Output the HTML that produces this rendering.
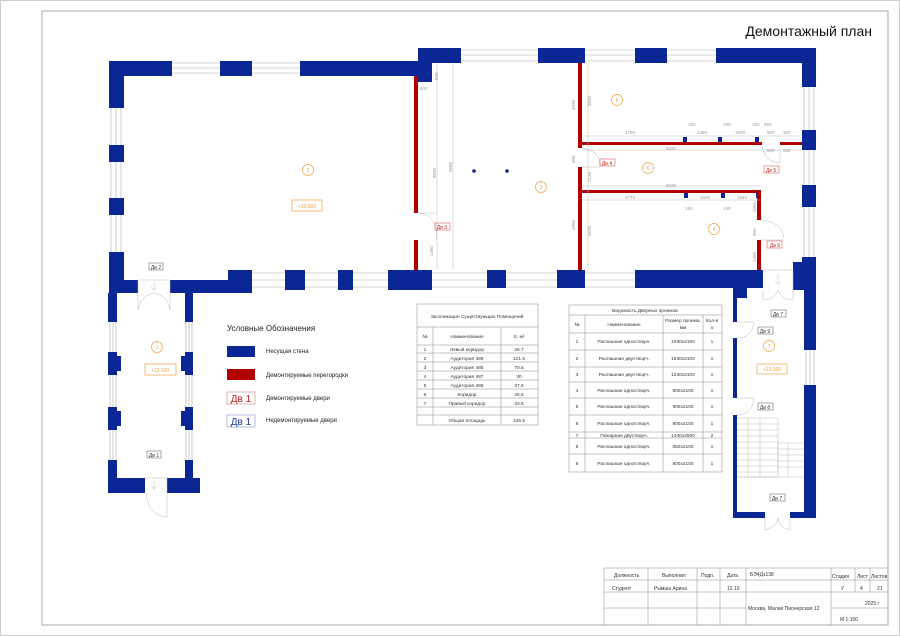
<!DOCTYPE html>
<html><head><meta charset="utf-8"><style>
html,body{margin:0;padding:0;background:#fff}
svg{display:block}
text{font-family:"Liberation Sans",sans-serif}
</style></head><body>
<svg width="900" height="636" viewBox="0 0 900 636" xmlns="http://www.w3.org/2000/svg">
<rect x="0.5" y="0.5" width="899" height="635" fill="#fff" stroke="#ccc"/>
<rect x="42" y="11" width="846" height="614" fill="none" stroke="#aaa" stroke-width="1"/>
<text x="872" y="36" font-size="14" text-anchor="end" fill="#111">Демонтажный план</text>

<g stroke="#aaa" stroke-width="0.6" fill="none">
 <path d="M172 63H220M172 68H220M172 73H220M252 63H300M252 68H300M252 73H300"/>
 <path d="M461 50H538M461 55H538M461 61H538M585 50H635M585 55H635M585 61H635M667 50H716M667 55H716M667 61H716"/>
 <path d="M111 108V145M116 108V145M121 108V145M111 162V198M116 162V198M121 162V198M111 215V252M116 215V252M121 215V252"/>
 <path d="M804 87V130M809 87V130M814 87V130M804 150V185M809 150V185M814 150V185M804 207V257M809 207V257M814 207V257M806 350V385M810 350V385M814 350V385"/>
 <path d="M252 273H285M252 280H285M252 287H285M305 273H338M305 280H338M305 287H338M353 273H388M353 280H388M353 287H388M432 273H487M432 280H487M432 287H487M506 273H557M506 280H557M506 287H557M585 273H635M585 280H635M585 287H635"/>
 <path d="M110 322V352M113 322V352M116 322V352M110 375V407M113 375V407M116 375V407M110 430V460M113 430V460M116 430V460"/>
 <path d="M186 322V352M189 322V352M192 322V352M186 375V407M189 375V407M192 375V407M186 430V460M189 430V460M192 430V460"/>
</g>

<g fill="#0b2795">
 <rect x="109" y="61" width="63" height="15"/>
 <rect x="220" y="61" width="32" height="15"/>
 <rect x="300" y="61" width="118" height="15"/>
 <rect x="418" y="48" width="14" height="34"/>
 <rect x="418" y="48" width="43" height="15"/>
 <rect x="538" y="48" width="47" height="15"/>
 <rect x="635" y="48" width="32" height="15"/>
 <rect x="716" y="48" width="100" height="15"/>
 <rect x="109" y="61" width="15" height="47"/>
 <rect x="109" y="145" width="15" height="17"/>
 <rect x="109" y="198" width="15" height="17"/>
 <rect x="109" y="252" width="15" height="41"/>
 <rect x="802" y="48" width="14" height="39"/>
 <rect x="802" y="130" width="14" height="20"/>
 <rect x="802" y="185" width="14" height="22"/>
 <rect x="802" y="257" width="14" height="33"/>
 <rect x="109" y="280" width="29" height="13"/>
 <rect x="170" y="280" width="82" height="13"/>
 <rect x="228" y="270" width="24" height="23"/>
 <rect x="285" y="270" width="20" height="20"/>
 <rect x="338" y="270" width="15" height="20"/>
 <rect x="388" y="270" width="44" height="20"/>
 <rect x="487" y="270" width="19" height="18"/>
 <rect x="557" y="270" width="28" height="18"/>
 <rect x="635" y="270" width="128" height="18"/>
 <rect x="733" y="286" width="14" height="12"/>
 <rect x="793" y="262" width="23" height="28"/>
 <rect x="108" y="293" width="9" height="29"/>
 <rect x="108" y="352" width="9" height="23"/><rect x="117" y="356" width="4" height="15"/>
 <rect x="108" y="407" width="9" height="23"/><rect x="117" y="411" width="4" height="15"/>
 <rect x="108" y="460" width="9" height="33"/>
 <rect x="185" y="293" width="8" height="29"/>
 <rect x="185" y="352" width="8" height="23"/><rect x="181" y="356" width="4" height="15"/>
 <rect x="185" y="407" width="8" height="23"/><rect x="181" y="411" width="4" height="15"/>
 <rect x="185" y="460" width="8" height="33"/>
 <rect x="108" y="478" width="37" height="15"/>
 <rect x="167" y="478" width="33" height="15"/>
 <rect x="733" y="298" width="4" height="24"/>
 <rect x="733" y="338" width="4" height="60"/>
 <rect x="733" y="415" width="4" height="103"/>
 <rect x="804" y="290" width="12" height="60"/>
 <rect x="804" y="385" width="12" height="133"/>
 <rect x="733" y="512" width="32" height="6"/>
 <rect x="790" y="512" width="26" height="6"/>
 <rect x="683" y="137" width="4" height="6"/><rect x="718" y="137" width="4" height="6"/><rect x="755" y="137" width="4" height="6"/>
 <rect x="684" y="192" width="4" height="6"/><rect x="721" y="192" width="4" height="6"/><rect x="756" y="192" width="4" height="6"/>
 <circle cx="474" cy="171" r="1.8"/><circle cx="507" cy="171" r="1.8"/>
</g>

<g fill="#b00000">
 <rect x="414" y="76" width="4" height="137"/>
 <rect x="414" y="240" width="4" height="30"/>
 <rect x="578" y="63" width="4" height="85"/>
 <rect x="578" y="167" width="4" height="103"/>
 <rect x="582" y="142" width="180" height="3"/>
 <rect x="780" y="142" width="22" height="3"/>
 <rect x="582" y="190" width="179" height="3"/>
 <rect x="757" y="190" width="4" height="30"/>
 <rect x="757" y="240" width="4" height="30"/>
</g>

<g stroke="#bbb" stroke-width="0.5" fill="none">
 <path d="M437 63V270M453 63V270M588 63V270M582 136H802M582 150H802M582 186H761M582 200H761"/>
 <path d="M418 213Q440 215 436 240M418 213L436 213"/>
 <path d="M582 148Q600 150 600 167M582 167H600"/>
 <path d="M762 145Q764 162 780 163M780 145V163"/>
 <path d="M761 220Q782 222 784 238M761 240H784"/>
 <path d="M138 280H170V293M138 280V293M154 282V290M151 287L154 290L157 287"/>
 <path d="M138 293V310M170 293V310M138 310Q140 296 154 293M170 310Q168 296 154 293"/>
 <path d="M145 478H167V493M154 481V489M151 486L154 489L157 486"/>
 <path d="M167 493V517M167 517Q148 515 146 493"/>
 <path d="M763 270H793V290M778 274V284M775 281L778 284L781 281"/>
 <path d="M763 290V300Q775 300 778 290M793 290V300Q781 300 778 290"/>
 <path d="M737 322H754M737 338Q752 338 754 322"/>
 <path d="M737 398H754M737 415Q752 415 754 398"/>
 <path d="M765 518V530Q776 528 778 518M790 518V530Q779 528 778 518"/>
 <path d="M737 418H778V477H737M748 418V477M760 418V477M778 443H804M778 443V477M737 477H804"/>
 <path d="M737 424H778M737 430H778M737 436H778M737 442H778M737 448H778M737 454H778M737 460H778M737 466H778M737 472H778"/>
 <path d="M778 449H804M778 455H804M778 461H804M778 467H804M788 443V477"/>
</g>

<g font-size="4.5" fill="#999">
 <text x="436" y="178" transform="rotate(-90 436 178)">8830</text>
 <text x="452" y="172" transform="rotate(-90 452 172)">9680</text>
 <text x="433" y="256" transform="rotate(-90 433 256)">1460</text>
 <text x="420" y="90">630</text>
 <text x="438" y="80" transform="rotate(-90 438 80)">840</text>
 <text x="575" y="110" transform="rotate(-90 575 110)">4030</text>
 <text x="591" y="106" transform="rotate(-90 591 106)">3690</text>
 <text x="575" y="163" transform="rotate(-90 575 163)">800</text>
 <text x="591" y="182" transform="rotate(-90 591 182)">2130</text>
 <text x="575" y="230" transform="rotate(-90 575 230)">4850</text>
 <text x="591" y="236" transform="rotate(-90 591 236)">3620</text>
 <text x="625" y="134">4750</text><text x="697" y="134">1460</text><text x="735" y="134">1600</text>
 <text x="688" y="126">150</text><text x="723" y="126">150</text><text x="752" y="126">150</text><text x="764" y="126">550</text>
 <text x="767" y="134">900</text><text x="783" y="134">330</text>
 <text x="767" y="152">900</text><text x="783" y="152">330</text>
 <text x="666" y="150">8430</text><text x="666" y="187">8430</text>
 <text x="625" y="199">4770</text><text x="700" y="199">1620</text><text x="737" y="199">1640</text>
 <text x="685" y="210">150</text><text x="723" y="210">150</text>
 <text x="756" y="212" transform="rotate(-90 756 212)">1050</text>
 <text x="756" y="236" transform="rotate(-90 756 236)">900</text>
 <text x="756" y="262" transform="rotate(-90 756 262)">1490</text>
</g>

<g fill="none" stroke="#f0a040" stroke-width="0.7">
 <circle cx="308" cy="170" r="5.5"/><rect x="292" y="200" width="30" height="11"/>
 <circle cx="541" cy="187" r="5.5"/>
 <circle cx="617" cy="100" r="5.5"/>
 <circle cx="648" cy="168" r="5.5"/>
 <circle cx="714" cy="229" r="5.5"/>
 <circle cx="157" cy="347" r="5.5"/><rect x="145" y="364" width="31" height="11"/>
 <circle cx="769" cy="346" r="5.5"/><rect x="757" y="364" width="30" height="10"/>
</g>
<g font-size="5" fill="#f0a040" text-anchor="middle">
 <text x="308" y="172">2</text><text x="307" y="208">+12.500</text>
 <text x="541" y="189">3</text><text x="617" y="102">5</text><text x="648" y="170">6</text><text x="714" y="231">4</text>
 <text x="157" y="349">1</text><text x="160" y="372">+13.100</text>
 <text x="769" y="348">7</text><text x="772" y="371">+13.100</text>
</g>

<g font-size="5" text-anchor="middle">
 <g fill="none" stroke="#d04040" stroke-width="0.5">
  <rect x="435" y="223" width="15" height="7"/><rect x="600" y="159" width="15" height="7"/>
  <rect x="764" y="166" width="15" height="7"/><rect x="767" y="241" width="15" height="7"/>
 </g>
 <g fill="#c02020">
  <text x="442" y="229">Дв 3</text><text x="607" y="165">Дв 4</text><text x="771" y="172">Дв 5</text><text x="775" y="247">Дв 6</text>
 </g>
 <g fill="none" stroke="#555" stroke-width="0.5">
  <rect x="149" y="263" width="14" height="7"/><rect x="147" y="451" width="14" height="7"/>
  <rect x="771" y="310" width="15" height="7"/><rect x="758" y="327" width="15" height="7"/>
  <rect x="758" y="403" width="15" height="7"/><rect x="770" y="494" width="15" height="7"/>
 </g>
 <g fill="#333">
  <text x="156" y="269">Дв 2</text><text x="154" y="457">Дв 1</text>
  <text x="778" y="316">Дв 7</text><text x="765" y="333">Дв 9</text>
  <text x="765" y="409">Дв 8</text><text x="777" y="500">Дв 7</text>
 </g>
</g>

<text x="227" y="331" font-size="8" fill="#222">Условные Обозначения</text>
<rect x="227" y="346" width="28" height="11" fill="#0b2795"/>
<text x="266" y="353" font-size="6" fill="#222">Несущая стена</text>
<rect x="227" y="369" width="28" height="11" fill="#b00000"/>
<text x="266" y="377" font-size="6" fill="#222">Демонтируемые перегородки</text>
<rect x="227" y="392" width="28" height="12" fill="none" stroke="#d08080" stroke-width="0.6"/>
<text x="241" y="402" font-size="10" fill="#c02020" text-anchor="middle">Дв 1</text>
<text x="266" y="400" font-size="6" fill="#222">Демонтируемые двери</text>
<rect x="227" y="415" width="28" height="12" fill="none" stroke="#8090d0" stroke-width="0.6"/>
<text x="241" y="425" font-size="10" fill="#1c3aa0" text-anchor="middle">Дв 1</text>
<text x="266" y="422" font-size="6" fill="#222">Недемонтируемые двери</text>

<g stroke="#888" stroke-width="0.5" fill="none">
 <rect x="417" y="304" width="121" height="121"/>
 <path d="M417 327H538M417 345H538M417 353H538M417 362H538M417 371H538M417 380H538M417 389H538M417 398H538M417 407H538M417 415H538M433 327V425M501 327V425"/>
</g>
<g font-size="4.8" fill="#333" text-anchor="middle">
 <text x="477" y="318">Экспликация Существующих Помещений</text>
 <text x="425" y="338">№</text><text x="467" y="338">Наименование</text><text x="519" y="338">S, м²</text>
 <text x="425" y="351">1</text><text x="467" y="351">Левый коридор</text><text x="519" y="351">26.7</text>
 <text x="425" y="360">2</text><text x="467" y="360">Аудитория 488</text><text x="519" y="360">121.6</text>
 <text x="425" y="369">3</text><text x="467" y="369">Аудитория 485</text><text x="519" y="369">70.5</text>
 <text x="425" y="378">4</text><text x="467" y="378">Аудитория 487</text><text x="519" y="378">30</text>
 <text x="425" y="387">5</text><text x="467" y="387">Аудитория 486</text><text x="519" y="387">37.6</text>
 <text x="425" y="396">6</text><text x="467" y="396">Коридор</text><text x="519" y="396">26.5</text>
 <text x="425" y="405">7</text><text x="467" y="405">Правый коридор</text><text x="519" y="405">33.6</text>
 <text x="467" y="422">Общая площадь</text><text x="519" y="422">346.5</text>
</g>

<g stroke="#888" stroke-width="0.5" fill="none">
 <rect x="569" y="305" width="153" height="167"/>
 <path d="M569 315H722M569 333H722M569 350H722M569 367H722M569 382H722M569 398H722M569 415H722M569 432H722M569 438H722M569 454H722M585 315V472M663 315V472M703 315V472"/>
</g>
<g font-size="4.8" fill="#333" text-anchor="middle">
 <text x="645" y="312">Ведомость Дверных проемов</text>
 <text x="577" y="326">№</text><text x="624" y="326">Наименование</text><text x="683" y="322">Размер проема,</text><text x="683" y="329">мм</text><text x="712" y="322">Кол-в</text><text x="712" y="329">о</text>
 <text x="577" y="343">1</text><text x="624" y="343">Распашная одностворч.</text><text x="683" y="343">1030х2100</text><text x="712" y="343">1</text>
 <text x="577" y="360">2</text><text x="624" y="360">Распашная двустворч.</text><text x="683" y="360">1530х2100</text><text x="712" y="360">1</text>
 <text x="577" y="376">3</text><text x="624" y="376">Распашная двустворч.</text><text x="683" y="376">1230х2100</text><text x="712" y="376">1</text>
 <text x="577" y="392">4</text><text x="624" y="392">Распашная одностворч.</text><text x="683" y="392">800х2100</text><text x="712" y="392">1</text>
 <text x="577" y="408">5</text><text x="624" y="408">Распашная одностворч.</text><text x="683" y="408">900х2100</text><text x="712" y="408">1</text>
 <text x="577" y="425">6</text><text x="624" y="425">Распашная одностворч.</text><text x="683" y="425">900х2100</text><text x="712" y="425">1</text>
 <text x="577" y="437">7</text><text x="624" y="437">Пожарная двустворч.</text><text x="683" y="437">1340х2500</text><text x="712" y="437">2</text>
 <text x="577" y="448">8</text><text x="624" y="448">Распашная одностворч.</text><text x="683" y="448">850х2100</text><text x="712" y="448">1</text>
 <text x="577" y="465">9</text><text x="624" y="465">Распашная одностворч.</text><text x="683" y="465">800х2100</text><text x="712" y="465">1</text>
</g>

<g stroke="#888" stroke-width="0.5" fill="none">
 <path d="M604 568H888M604 580H888M604 592H888M604 608H746M604 568V625M648 568V625M697 568V625M720 568V625M746 568V625M831 568V625M855 568V592M870 568V592M831 608H888"/>
</g>
<g font-size="5" fill="#333">
 <text x="614" y="577">Должность</text><text x="662" y="577">Выполнил</text><text x="701" y="577">Подп.</text><text x="727" y="577">Дата</text><text x="750" y="576">БЭ4Дз138</text>
 <text x="832" y="578">Стадия</text><text x="857" y="578">Лист</text><text x="871" y="578">Листов</text>
 <text x="612" y="590">Студент</text><text x="654" y="590">Рымша Арина</text><text x="727" y="590">12.10</text>
 <text x="841" y="590">У</text><text x="860" y="590">4</text><text x="877" y="590">21</text>
 <text x="748" y="610">Москва, Малая Пионерская 12</text>
 <text x="865" y="605">2025 г</text><text x="840" y="621">М 1:100</text>
</g>
</svg>
</body></html>
